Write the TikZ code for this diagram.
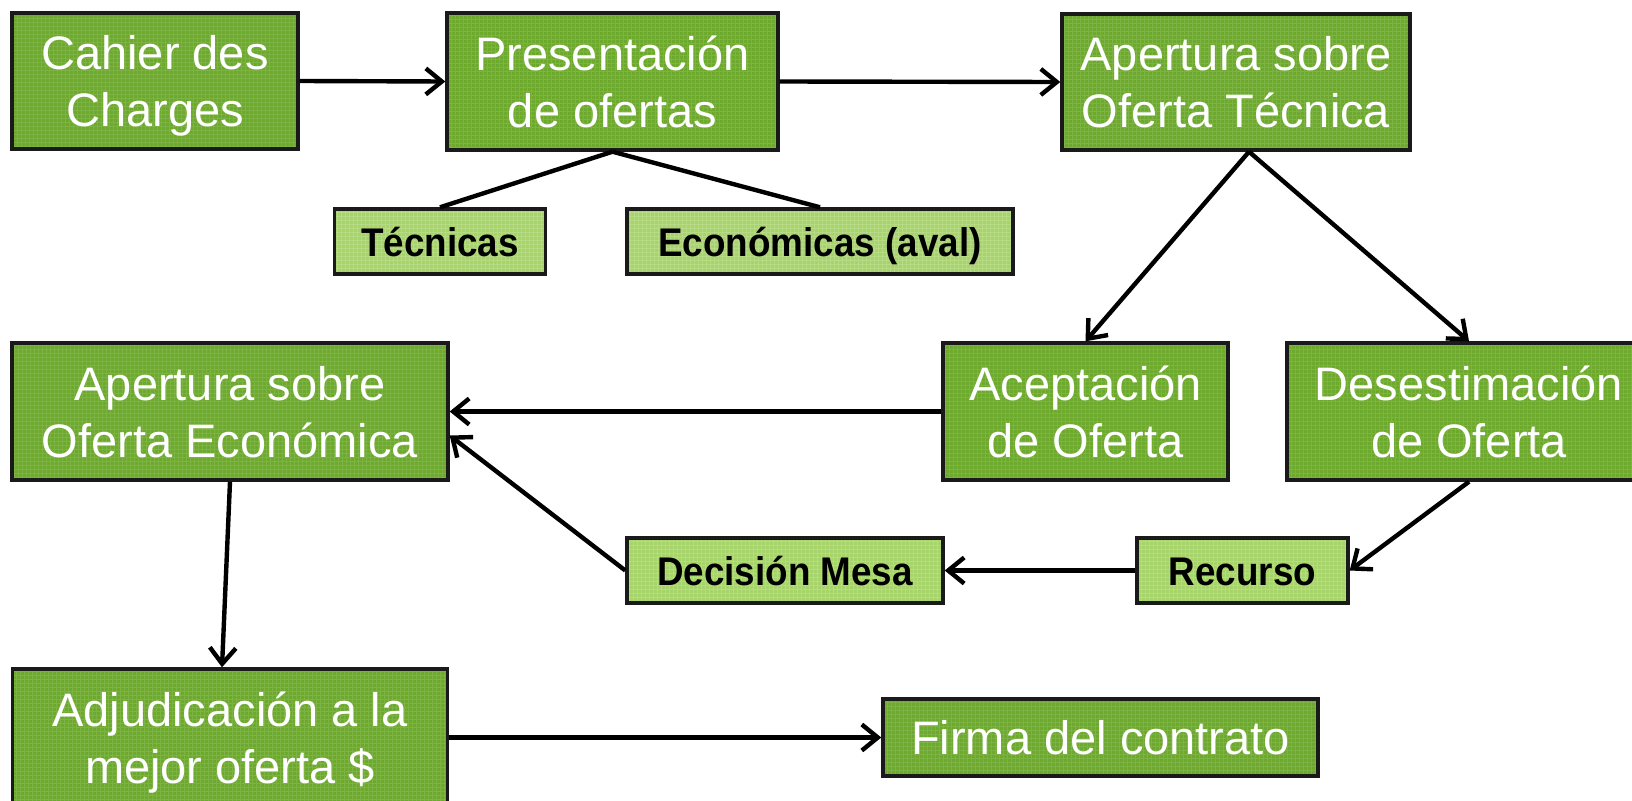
\documentclass[tikz,border=0pt]{standalone}
\usepackage{fontspec}
\setmainfont{Liberation Sans}
\newfontfamily\narrowbold[FakeStretch=0.92]{Liberation Sans Bold}
\usetikzlibrary{arrows.meta}
\definecolor{bigfill}{HTML}{6CA92C}
\definecolor{smallfill}{HTML}{A6D46A}
\definecolor{edge}{HTML}{1A1A1A}
\begin{document}
\begin{tikzpicture}[x=1pt,y=-1pt,
  texture/.style={path picture={\draw[white,opacity=#1,line width=0.6pt]
     (path picture bounding box.south west) grid[step=4pt] (path picture bounding box.north east);}},
  bigbox/.style={draw=edge,line width=3.4pt,fill=bigfill,texture=0.12,text=white,align=center,
    font=\fontsize{47}{57}\selectfont,inner sep=0pt,anchor=center,text depth=0pt},
  smallbox/.style={draw=edge,line width=3.4pt,fill=smallfill,texture=0.18,text=black,align=center,
    font=\fontsize{40}{46}\narrowbold,inner sep=0pt,anchor=center,text height=29pt,text depth=0pt},
  conn/.style={draw=black,line width=4.4pt},
  arr/.style={conn,-{Straight Barb[length=16pt,width=26pt,line width=4.4pt]}}]
\clip (0,0) rectangle (1632,800);
\fill[white] (0,0) rectangle (1632,800);
% big boxes
\node[bigbox,minimum width=286pt,minimum height=136pt] (cahier) at (155,81) {Cahier des\\Charges};
\node[bigbox,minimum width=331pt,minimum height=137pt] (pres) at (612.5,81.5) {Presentación\\de ofertas};
\node[bigbox,minimum width=348pt,minimum height=136pt] (apT) at (1236,82) {Apertura sobre\\Oferta Técnica};
\node[bigbox,minimum width=436pt,minimum height=137pt] (apE) at (230,411.5) {Apertura sobre\\Oferta Económica};
\node[bigbox,minimum width=285pt,minimum height=137pt] (acep) at (1085.5,411.5) {Aceptación\\de Oferta};
\node[bigbox,minimum width=364pt,minimum height=137pt] (des) at (1469,411.5) {Desestimación\\de Oferta};
\node[bigbox,minimum width=435pt,minimum height=137pt] (adj) at (230,737.5) {Adjudicación a la\\mejor oferta \$};
\node[bigbox,minimum width=435pt,minimum height=77pt] (firma) at (1100.5,737.5) {Firma del contrato};
% small boxes
\node[smallbox,minimum width=211pt,minimum height=65pt] (tec) at (440,241.5) {Técnicas};
\node[smallbox,minimum width=386pt,minimum height=65pt] (eco) at (820,241.5) {Económicas (aval)};
\node[smallbox,minimum width=316pt,minimum height=65pt] (dec) at (785,570.5) {Decisión Mesa};
\node[smallbox,minimum width=211pt,minimum height=65pt] (rec) at (1242.5,570.5) {Recurso};
% helper coordinates
\coordinate (apTout) at ([xshift=13pt]apT.south);
\coordinate (apEin) at ([yshift=-24pt]apE.east);
\coordinate (adjin) at ([xshift=-8pt]adj.north);
\coordinate (presout) at (pres.south);
% connectors
\draw[arr] (cahier.east) -- (pres.west);
\draw[arr] (pres.east) -- (apT.west);
\draw[conn] (presout) -- (tec.north);
\draw[conn] (presout) -- (eco.north);
\draw[arr] (apTout) -- (acep.north);
\draw[arr] (apTout) -- (des.north);
\draw[arr] (acep.west) -- (apE.east);
\draw[arr] (des.south) -- (rec.east);
\draw[arr] (rec.west) -- (dec.east);
\draw[arr] (dec.west) -- (apEin);
\draw[arr] (apE.south) -- (adjin);
\draw[arr] (adj.east) -- (firma.west);
\end{tikzpicture}
\end{document}
